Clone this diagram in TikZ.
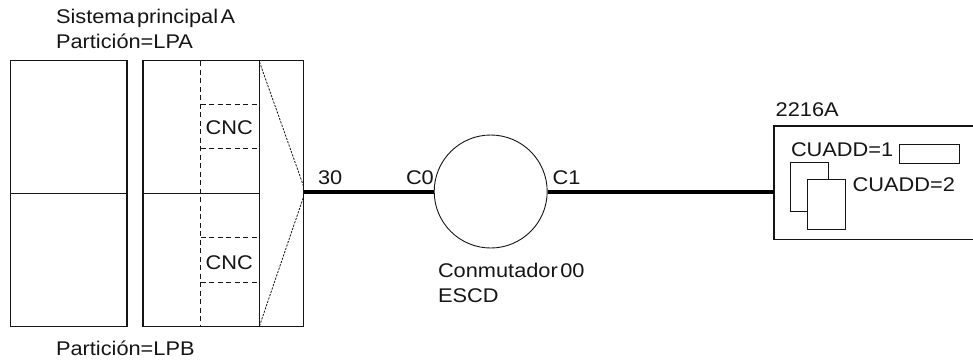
\documentclass[tikz,border=0pt]{standalone}
\usepackage{fontspec}
\setmainfont[FakeStretch=1.10,WordSpace=0.4]{Liberation Sans}
\definecolor{ink}{HTML}{151515}
\tikzset{
  lbl/.style={anchor=base west,inner sep=0pt,outer sep=0pt,font=\fontsize{19.8pt}{21pt}\selectfont,text=ink},
  heavybox/.style={draw=ink,line width=1.4pt,fill=white},
  thinbox/.style={draw=ink,line width=0.9pt,fill=white},
  dashline/.style={draw=ink,line width=1pt,dash pattern=on 5pt off 3.5pt},
  dotline/.style={draw=ink,line width=0.8pt,dash pattern=on 2.2pt off 1.3pt},
  bus/.style={draw=black,line width=3.6pt},
}
\begin{document}
\begin{tikzpicture}[x=1pt,y=-1pt]
\useasboundingbox (0,0) rectangle (973,360);
% thin extension box and fan
\draw[thinbox] (259.5,60.5) rectangle (303.5,326.5);
\coordinate (fantop) at (259.5,62);
\coordinate (fanbot) at (259.5,326);
\coordinate (fantip1) at (303.5,186);
\coordinate (fantip2) at (303.5,197);
\draw[dotline] (fantop) -- (fantip1);
\draw[dotline] (fanbot) -- (fantip2);
% left system
\draw[heavybox] (10.5,60.5) rectangle (127,326.5);
\draw[heavybox] (10.5,193.5) -- (127,193.5);
% second system
\draw[heavybox] (143,60.5) rectangle (259.5,326.5);
\draw[heavybox] (143,193.5) -- (259.5,193.5);
\draw[dashline] (200.5,61) -- (200.5,326);
\draw[dashline] (200.5,104.5) -- (259,104.5);
\draw[dashline] (200.5,148.5) -- (259,148.5);
\draw[dashline] (200.5,237.5) -- (259,237.5);
\draw[dashline] (200.5,282) -- (259,282);
% anchors for connectors
\coordinate (portL) at (304,192);
\node[circle,draw=ink,line width=0.9pt,minimum size=113pt,inner sep=0pt,fill=white] (sw) at (490.7,191.5) {};
% device
\draw[heavybox] (973,126) -- (774,126) -- (774,239.7) -- (973,239.7);
\coordinate (dev) at (774,192);
\draw[thinbox] (899,144.3) rectangle (959.3,163);
\draw[thinbox] (790,162) rectangle (828,211.5);
\draw[thinbox] (807.5,179.5) rectangle (845.5,229);
% connectors
\draw[bus] (portL) -- (sw.west |- portL);
\draw[bus] (sw.east |- dev) -- (dev);
% labels
\node[lbl] (t1) at (56,23) {Sistema principal A};
\node[lbl] (t2) at (56,48) {Partición=LPA};
\node[lbl] (t3) at (56,355.5) {Partición=LPB};
\node[lbl] (c1) at (205.7,134) {CNC};
\node[lbl] (c2) at (205.7,269) {CNC};
\node[lbl] (p30) at (318,184) {30};
\node[lbl] (pc0) at (406,184) {C0};
\node[lbl] (pc1) at (552.7,184) {C1};
\node[lbl] (t4) at (438,277) {Conmutador 00};
\node[lbl] (t5) at (438,302) {ESCD};
\node[lbl] (t6) at (775.7,116) {2216A};
\node[lbl] (t7) at (791,156.7) {CUADD=1};
\node[lbl] (t8) at (852.7,191) {CUADD=2};
\end{tikzpicture}
\end{document}
